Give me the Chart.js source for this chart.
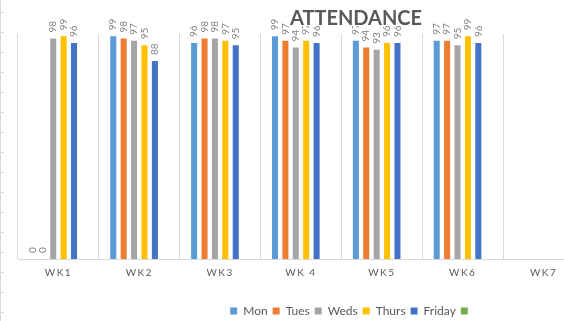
<!DOCTYPE html>
<html>
<head>
<meta charset="utf-8">
<script src="https://cdn.jsdelivr.net/npm/chart.js@4/dist/chart.umd.min.js"></script>
<style>
  html, body { margin: 0; padding: 0; background: #fff; overflow: hidden; }
  #wrap { position: relative; width: 712px; height: 321px; }
</style>
</head>
<body>
<div id="wrap"><canvas id="myChart" width="712" height="321"></canvas></div>
<script>
// weeks along the bottom
const weeks = ['WK1', 'WK2', 'WK3', 'WK 4', 'WK5', 'WK6', 'WK7'];

// attendance per day, one value per week (null = no data)
const mon    = [0,  99, 96, 99, 97, 97, null];
const tues   = [0,  98, 98, 97, 94, 97, null];
const weds   = [98, 97, 98, 94, 93, 95, null];
const thurs  = [99, 95, 97, 97, 96, 99, null];
const friday = [96, 88, 95, 96, 96, 96, null];
const extra  = [null, null, null, null, null, null, null]; // empty green series

const seriesNames  = ['Mon', 'Tues', 'Weds', 'Thurs', 'Friday', ''];
const seriesColors = ['#5B9BD5', '#ED7D31', '#A5A5A5', '#FFC000', '#4472C4', '#70AD47'];
const seriesData   = [mon, tues, weds, thurs, friday, extra];

const titleText = 'ATTENDANCE';

// draws the rotated value labels, then puts the title (with its white box) on top
const valueLabels = {
    id: 'valueLabels',
    beforeDraw(chart) {
        const ctx = chart.ctx;
        // faint axis left over at the very left edge
        ctx.save();
        ctx.strokeStyle = '#d9d9d9';
        ctx.lineWidth = 1;
        ctx.beginPath();
        ctx.moveTo(0.5, 0);
        ctx.lineTo(0.5, chart.height);
        for (let y = 12; y < chart.height; y += 20) {
            ctx.moveTo(0, y + 0.5);
            ctx.lineTo(4, y + 0.5);
        }
        ctx.stroke();
        ctx.restore();

        const xs = chart.scales.x;
        if (xs && !xs._spaced) {
            const orig = xs.drawLabels;
            xs.drawLabels = function(area) {
                this.ctx.save();
                this.ctx.letterSpacing = '1.5px';
                orig.call(this, area);
                this.ctx.restore();
            };
            xs._spaced = true;
        }
    },
    afterDatasetsDraw(chart) {
        const ctx = chart.ctx;
        ctx.save();
        ctx.font = '10px Lato';
        ctx.fillStyle = '#808080';
        ctx.textAlign = 'left';
        ctx.textBaseline = 'middle';
        chart.data.datasets.forEach(function(ds, i) {
            const meta = chart.getDatasetMeta(i);
            meta.data.forEach(function(bar, j) {
                const v = ds.data[j];
                if (v === null || v === undefined) return;
                ctx.save();
                ctx.translate(bar.x, bar.y - 6);
                ctx.rotate(-Math.PI / 2);
                ctx.fillText(String(v), 0, 0);
                ctx.restore();
            });
        });

        // title sits on a white box that hides labels under it
        ctx.font = 'bold 20px Lato';
        const w = ctx.measureText(titleText).width;
        const cx = 356;
        ctx.fillStyle = '#ffffff';
        ctx.fillRect(cx - w / 2 - 3, 8, w + 6, 18);
        ctx.fillStyle = '#595959';
        ctx.textAlign = 'center';
        ctx.textBaseline = 'alphabetic';
        ctx.fillText(titleText, cx, 25);
        ctx.restore();
    }
};

// hidden axis used only to hold space
function spacer(w, pos) {
    return {
        position: pos,
        display: true,
        min: 0,
        max: 100,
        grid: { display: false },
        border: { display: false },
        ticks: { display: false },
        afterFit: function(scale) { scale.width = w; }
    };
}

const ctx = document.getElementById('myChart').getContext('2d');
const myChart = new Chart(ctx, {
    type: 'bar',
    data: {
        labels: weeks,
        datasets: seriesData.map(function(d, i) {
            return {
                label: seriesNames[i],
                data: d,
                backgroundColor: seriesColors[i],
                borderWidth: 0,
                categoryPercentage: 0.772,
                barPercentage: 0.58
            };
        })
    },
    options: {
        responsive: false,
        animation: false,
        layout: {
            padding: { left: 0, right: 8, top: 34, bottom: -6 }
        },
        plugins: {
            legend: {
                position: 'bottom',
                labels: {
                    boxWidth: 7,
                    boxHeight: 7,
                    padding: 5,
                    color: '#595959',
                    font: { size: 12, family: 'Lato' }
                }
            },
            tooltip: { enabled: false }
        },
        scales: {
            x: {
                grid: {
                    color: '#d9d9d9',
                    drawTicks: false
                },
                border: { color: '#d9d9d9' },
                ticks: {
                    color: '#595959',
                    padding: 8,
                    maxRotation: 0,
                    font: { size: 10, family: 'Lato' }
                },
                afterFit: function(scale) { scale.height = 41; }
            },
            y: spacer(18, 'left'),
            y2: spacer(120, 'right')
        }
    },
    plugins: [valueLabels]
});
</script>
</body>
</html>
